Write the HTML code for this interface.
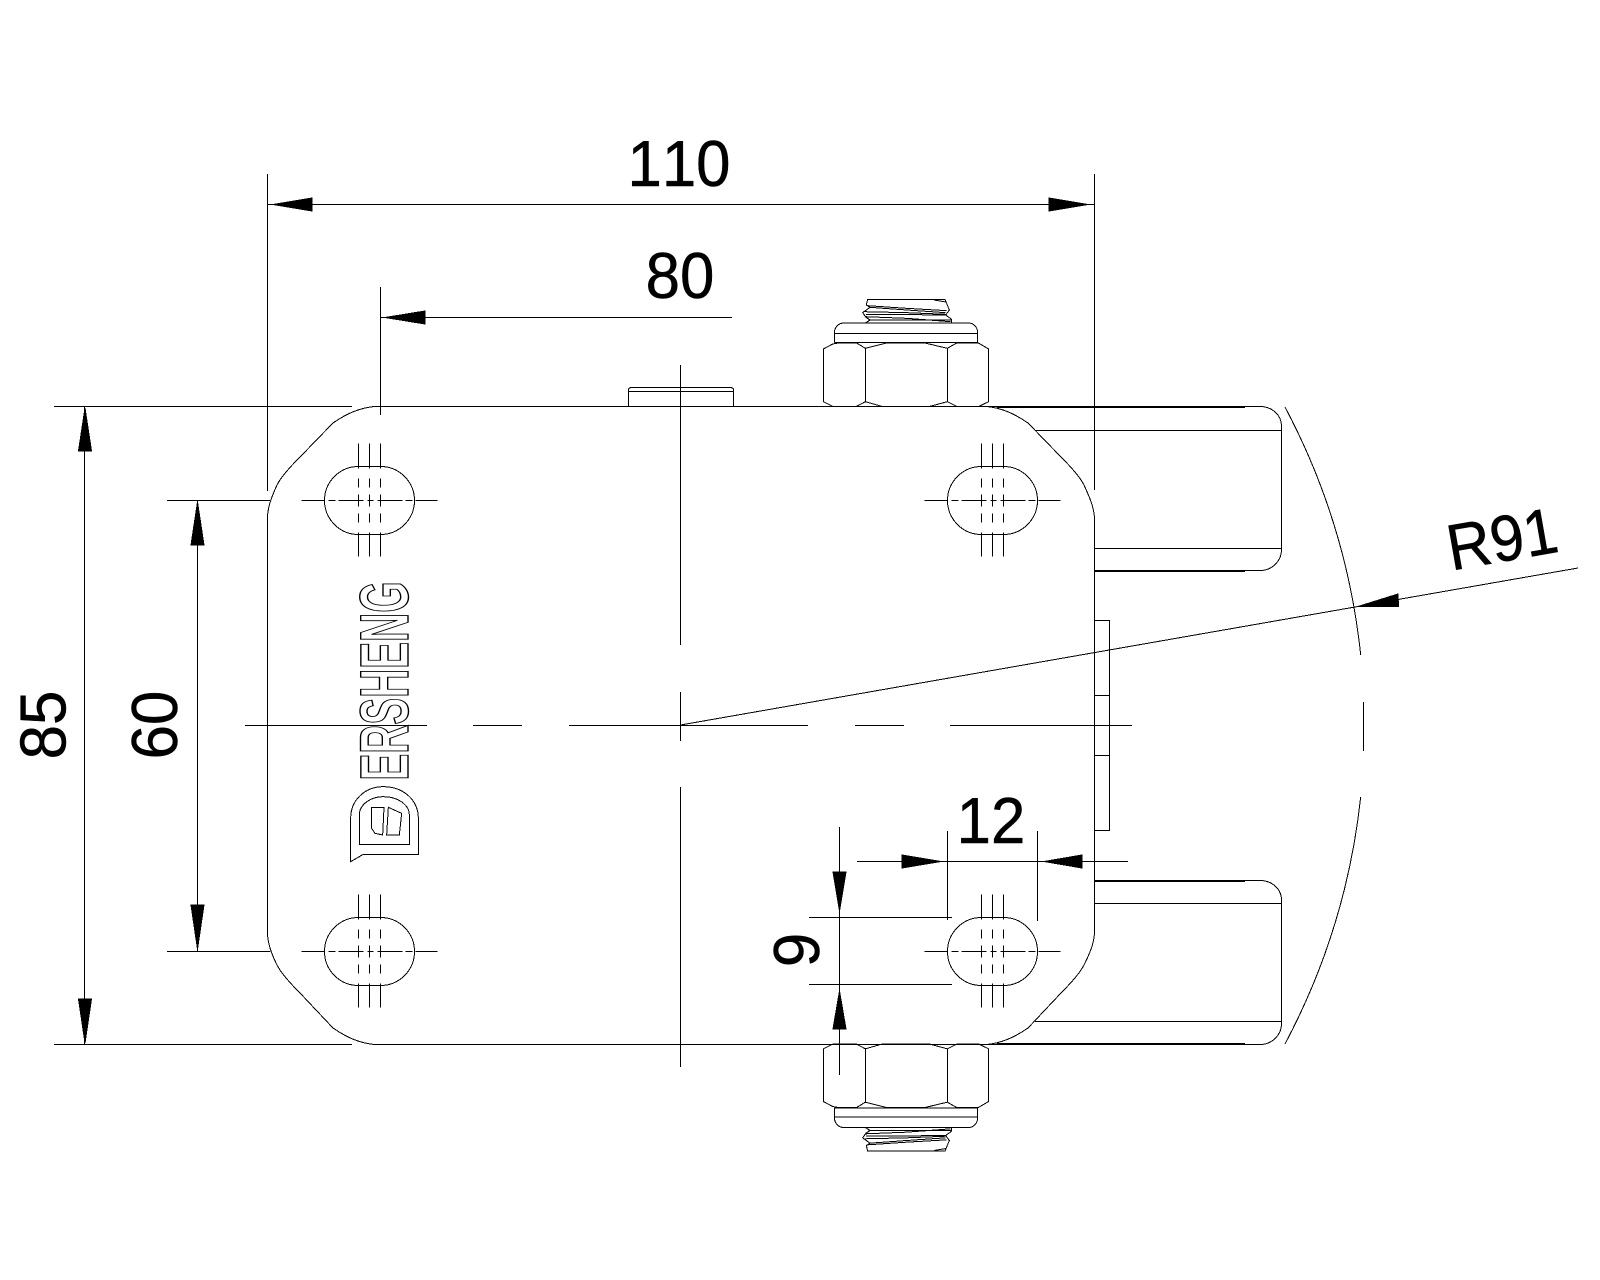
<!DOCTYPE html>
<html lang="en">
<head>
<meta charset="utf-8">
<title>Dimension drawing</title>
<style>
html,body{margin:0;padding:0;background:#fff;}
svg{display:block;}
.t{font-family:"Liberation Sans",Arial,sans-serif;font-size:65px;fill:#000;stroke:#000;stroke-width:.5;text-anchor:middle;font-kerning:none;}
</style>
</head>
<body>
<svg width="1600" height="1280" viewBox="0 0 1600 1280" xmlns="http://www.w3.org/2000/svg" shape-rendering="crispEdges">
<defs>
  <g id="hole" fill="none" stroke="#000" stroke-width="1">
    <path d="M-11 -34H11A34 34 0 0 1 11 34H-11A34 34 0 0 1 -11 -34Z"/>
    <path d="M-11 -57V-32M-11 -22V-13M-11 -6V6M-11 13V22M-11 32V56"/>
    <path d="M0 -57V-32M0 -22V-13M0 -6V6M0 13V22M0 32V56"/>
    <path d="M11 -57V-32M11 -22V-13M11 -6V6M11 13V22M11 32V56"/>
    <path d="M-68 0H-45M-41 0H-34M-31 0H-6M-2 0H4M8 0H33M36 0H43M46 0H68"/>
  </g>
  <g id="nut" fill="none" stroke="#000" stroke-width="3">
    <path d="M130 237L158 222L175 219H230L256 235L320 219H435L502 235L530 219H595L626 237V395L597 409H530L502 395L450 409H305L256 395L230 409H158L130 395Z"/>
    <path d="M256 235V395M502 235V395"/>
    <path d="M163 217V190C163 172 175 159 192 159H565C582 159 593 172 593 190V217M163 190H593M163 217H593"/>
    <path d="M263 88H495L508 120L497 135L515 148V158M263 88L259 105L270 112L248 128L258 142L270 150L258 158"/>
    <path d="M262 107L380 115L500 122M250 125L380 128L500 133M255 140L380 145L512 155M270 112L380 120L497 128M258 134L400 134L497 135M270 150H515M462 90L498 96"/>
  </g>
</defs>

<rect width="1600" height="1280" fill="#fff"/>

<!-- nuts -->
<use href="#nut" transform="translate(780 270) scale(.33333)"/>
<use href="#nut" transform="matrix(.33333 0 0 -.33333 780 1180.5)"/>

<g fill="none" stroke="#000" stroke-width="1">
  <!-- body -->
  <path d="M374 406.5H987C1000 408 1012 412 1028 423L1061 457C1072 468 1080 477 1084 485C1089 496 1094 507 1094.5 518V933C1094 944 1089 955 1084 965C1080 973 1072 982 1061 993L1028 1028C1012 1039 1000 1043 987 1044.5H374C361 1043 349 1039 333 1028L300 993C289 982 281 973 277 965C272 955 267.5 944 267.5 933V518C267.5 507 272 496 277 485C281 477 289 468 300 457L333 423C349 412 361 408 374 406.5Z"/>

  <!-- ears -->
  <path d="M987 406.5H1260C1272 406.5 1281.5 415 1281.5 426V550C1281.5 561 1272 570.5 1260 570.5H1094.5"/>
  <path d="M997 407.5H1245M1095 571.5H1245M1035 430.5H1281.5M1095 548.5H1281.5"/>
  <path d="M1094.5 880.5H1260C1272 880.5 1281.5 889 1281.5 900V1024C1281.5 1035 1272 1044.5 1260 1044.5H987"/>
  <path d="M1095 881.5H1245M997 1043.5H1245M1095 903.5H1281.5M1035 1021.5H1281.5"/>

  <!-- right plate -->
  <path d="M1094.5 620.5H1109.5V830.5H1094.5M1094.5 695.5H1109.5M1094.5 755.5H1109.5"/>

  <!-- top tab -->
  <path d="M628.5 406V390C628.5 388 630 387.5 632 387.5H730C732 387.5 733.5 388 733.5 390V406M628.5 391.5H733.5"/>

  <!-- centre lines -->
  <path d="M245 725.5H427M473 725.5H522M569 725.5H808M855 725.5H904M950 725.5H1132"/>
  <path d="M680.5 365V645M680.5 692V741M680.5 787V1067"/>

  <!-- R91 arc and leader -->
  <path d="M1285 407A683 683 0 0 1 1360.7 655M1363.5 702V751M1360.7 797A683 683 0 0 1 1285 1044"/>
  <path d="M680.5 725L1578 568"/>

  <!-- dim 110 -->
  <path d="M267.5 174V491M1094.5 174V490M268 204.5H1094"/>
  <!-- dim 80 -->
  <path d="M380.5 287V415M381 317.5H732"/>
  <!-- dim 85 -->
  <path d="M54 406.5H352M54 1044.5H352M84.5 407V1044"/>
  <!-- dim 60 -->
  <path d="M167 500.5H270M167 951.5H270M197.5 501V951"/>
  <!-- dim 12 -->
  <path d="M857 861.5H1128M947.5 831V920M1037.5 831V921"/>
  <!-- dim 9 -->
  <path d="M839.5 827V1075M809 917.5H952M809 984.5H952"/>
</g>

<use href="#hole" transform="translate(369.5 500.5)"/>
<use href="#hole" transform="translate(992.5 500.5)"/>
<use href="#hole" transform="translate(369.5 951.5)"/>
<use href="#hole" transform="translate(992.5 951.5)"/>

<!-- arrowheads -->
<g fill="#000" stroke="#000" stroke-width="1">
  <polygon points="273,204.5 312,198 312,211"/>
  <polygon points="1088,204.5 1049,198 1049,211"/>
  <polygon points="385,317.5 425,311 425,324"/>
  <polygon points="85,408 78.5,451 91.5,451"/>
  <polygon points="85,1043 78.5,999 91.5,999"/>
  <polygon points="197.5,502 191,545 204,545"/>
  <polygon points="197.5,949 191,905 204,905"/>
  <polygon points="941,861.5 902,855 902,868"/>
  <polygon points="1044,861.5 1082,855 1082,868"/>
  <polygon points="839.5,911 833,872 846,872"/>
  <polygon points="839.5,991 833,1029 846,1029"/>
  <polygon points="1358,606.5 1398,594 1398.5,606.5"/>
</g>

<!-- logo -->
<g fill="#fff" stroke="#000" stroke-width="1.4">
  <text transform="translate(408 780.5) rotate(-90)" x="0" y="0" textLength="199" lengthAdjust="spacingAndGlyphs" style="font-family:'Liberation Sans',Arial,sans-serif;font-weight:bold;font-size:69px;">ERSHENG</text>
</g>
<path d="M245 725.5H427" fill="none" stroke="#000"/>
<g fill="none" stroke="#000" stroke-width="3" transform="translate(330 570) scale(.33333)">
  <path d="M62 875V745C62 690 105 650 160 650C220 650 265 690 265 745V853H100Z"/>
  <path d="M88 823V735C88 705 120 680 160 680C205 680 238 705 238 735V823Z"/>
  <path d="M125 712H162L158 795L135 790L125 775Z"/>
  <path d="M175 712L215 730L208 795H170Z"/>
</g>

<!-- dimension labels -->
<text class="t" transform="translate(679 186) scale(.95 1)">110</text>
<text class="t" transform="translate(680 298) scale(.95 1)">80</text>
<text class="t" transform="translate(65.5 725) rotate(-90) scale(.95 1)">85</text>
<text class="t" transform="translate(177 725) rotate(-90) scale(.95 1)">60</text>
<text class="t" transform="translate(991 843) scale(.95 1)">12</text>
<text class="t" transform="translate(819 950) rotate(-90) scale(.95 1)">9</text>
<text class="t" transform="translate(1506 561) rotate(-10) scale(.93 1)">R91</text>
</svg>
</body>
</html>
